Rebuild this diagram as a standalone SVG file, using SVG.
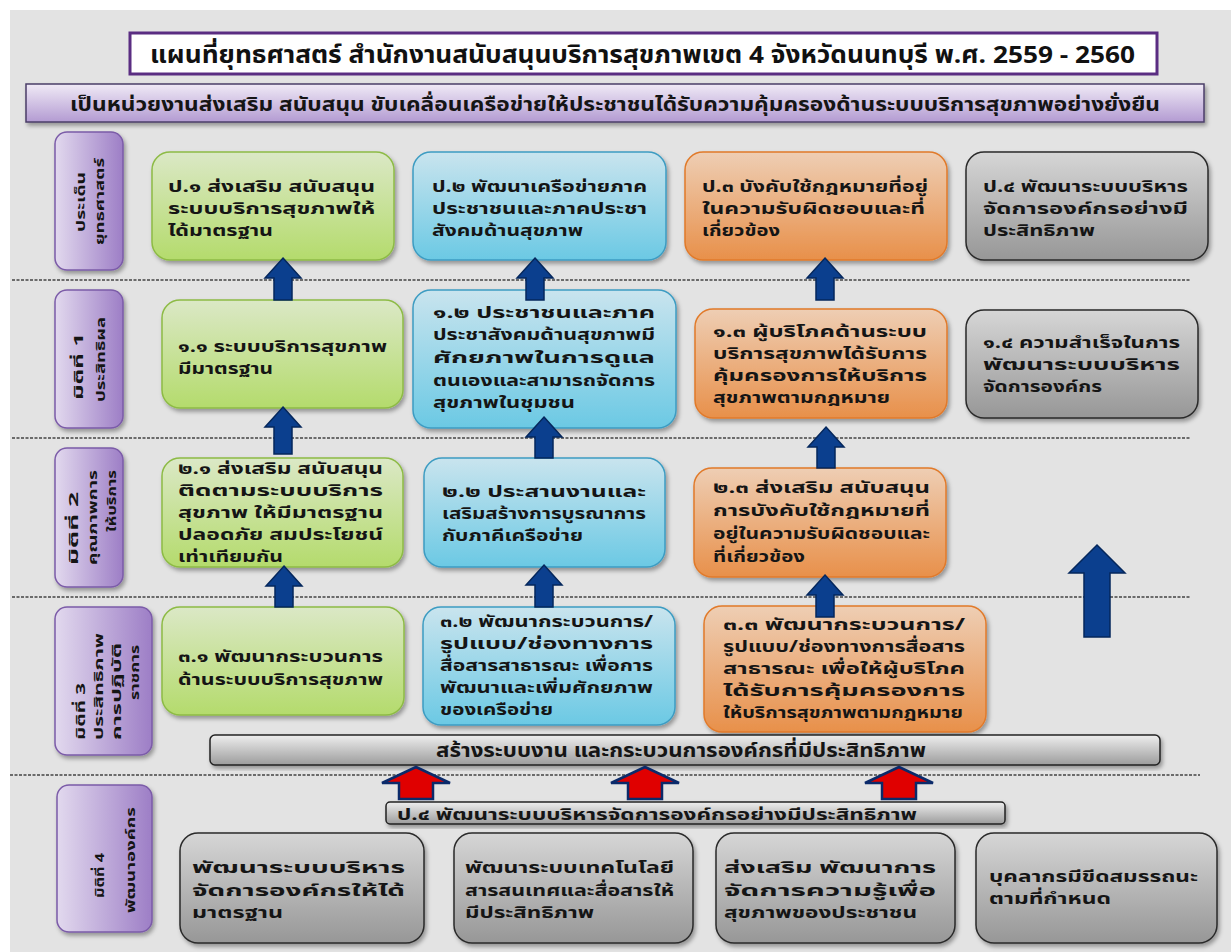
<svg xmlns="http://www.w3.org/2000/svg" width="1231" height="952" viewBox="0 0 1231 952">
<defs>
<linearGradient id="gG" x1="0" y1="0" x2="0" y2="1"><stop offset="0" stop-color="#dbe8c6"/><stop offset="1" stop-color="#b4db6c"/></linearGradient>
<linearGradient id="gB" x1="0" y1="0" x2="0" y2="1"><stop offset="0" stop-color="#c9e4ee"/><stop offset="1" stop-color="#6bc9e4"/></linearGradient>
<linearGradient id="gO" x1="0" y1="0" x2="0" y2="1"><stop offset="0" stop-color="#eeceb4"/><stop offset="1" stop-color="#e8904a"/></linearGradient>
<linearGradient id="gY" x1="0" y1="0" x2="0" y2="1"><stop offset="0" stop-color="#d6d6d6"/><stop offset="1" stop-color="#979797"/></linearGradient>
<linearGradient id="gBar" x1="0" y1="0" x2="0" y2="1"><stop offset="0" stop-color="#eeeeee"/><stop offset="1" stop-color="#9c9c9c"/></linearGradient>
<linearGradient id="gP" x1="0" y1="0" x2="1" y2="0"><stop offset="0" stop-color="#e2d9ee"/><stop offset="1" stop-color="#9d7ec6"/></linearGradient>
<linearGradient id="gM" x1="0" y1="0" x2="0" y2="1"><stop offset="0" stop-color="#f0eaf6"/><stop offset="1" stop-color="#b39bd2"/></linearGradient>
<filter id="sh" x="-10%" y="-10%" width="125%" height="130%"><feDropShadow dx="2" dy="3" stdDeviation="2" flood-color="#000" flood-opacity="0.35"/></filter>
</defs>
<style>
.t{font-family:"Noto Sans Thai","Noto Sans","DejaVu Sans",sans-serif;font-weight:bold;font-size:16px;fill:#151515}
.t1{font-family:"Noto Sans Thai","Noto Sans","DejaVu Sans",sans-serif;font-weight:bold;font-size:19px;fill:#151515}
.t2{font-family:"Noto Sans Thai","Noto Sans","DejaVu Sans",sans-serif;font-weight:bold;font-size:16px;fill:#151515}
.lb{font-family:"Noto Sans Thai","Noto Sans","DejaVu Sans",sans-serif;font-weight:bold;font-size:13px;fill:#151515}
.ttl{font-family:"Noto Sans Thai","Noto Sans","DejaVu Sans",sans-serif;font-weight:bold;font-size:24px;fill:#111}
.g{fill:url(#gG);stroke:#8dbb45;stroke-width:1.5;filter:url(#sh)}
.b{fill:url(#gB);stroke:#3d9cc2;stroke-width:1.5;filter:url(#sh)}
.o{fill:url(#gO);stroke:#e17a2a;stroke-width:1.5;filter:url(#sh)}
.y{fill:url(#gY);stroke:#2a2a2a;stroke-width:1.5;filter:url(#sh)}
.bar{fill:url(#gBar);stroke:#222;stroke-width:1.5;filter:url(#sh)}
.p{fill:url(#gP);stroke:#7b5ba8;stroke-width:1.5;filter:url(#sh)}
.dl{stroke:#444;stroke-width:1.5;stroke-dasharray:3 1.5;fill:none}
.ab{fill:#0b3f8e;stroke:#05275c;stroke-width:1.5}
.ar{fill:#e00000;stroke:#0b2a6a;stroke-width:2.5}
</style>
<rect x="0" y="0" width="1231" height="952" fill="#ffffff"/>
<rect x="10" y="10" width="1221" height="942" fill="#e3e3e3"/>

<g id="title">
<rect x="130" y="33" width="1027" height="41" fill="#ffffff" stroke="#5a2d82" stroke-width="3"/>
<text class="ttl" x="150" y="63" textLength="985" lengthAdjust="spacingAndGlyphs">แผนที่ยุทธศาสตร์ สำนักงานสนับสนุนบริการสุขภาพเขต 4 จังหวัดนนทบุรี พ.ศ. 2559 - 2560</text>
</g>
<g id="mission">
<rect x="26" y="84" width="1178" height="38" fill="url(#gM)" stroke="#4b3d68" stroke-width="1.5" filter="url(#sh)"/>
<text class="t1" x="70" y="111" textLength="1090" lengthAdjust="spacingAndGlyphs">เป็นหน่วยงานส่งเสริม  สนับสนุน  ขับเคลื่อนเครือข่ายให้ประชาชนได้รับความคุ้มครองด้านระบบบริการสุขภาพอย่างยั่งยืน</text>
</g>

<g id="dividers">
<line class="dl" x1="12" y1="280" x2="1190" y2="280"/>
<line class="dl" x1="12" y1="438" x2="1190" y2="438"/>
<line class="dl" x1="12" y1="597" x2="1190" y2="597"/>
<line class="dl" x1="10" y1="775" x2="1200" y2="775"/>
</g>

<g id="label-strategy">
<rect class="p" x="55" y="132" width="68" height="138" rx="12"/>
<text class="lb" transform="rotate(-90)"><tspan x="-232" y="85" textLength="60" lengthAdjust="spacingAndGlyphs">ประเด็น</tspan><tspan x="-245" y="104" textLength="87" lengthAdjust="spacingAndGlyphs">ยุทธศาสตร์</tspan></text>
</g>
<g id="label-dim1">
<rect class="p" x="55" y="290" width="68" height="138" rx="12"/>
<text class="lb" transform="rotate(-90)"><tspan x="-400" y="83" textLength="67" lengthAdjust="spacingAndGlyphs">มิติที่ 1</tspan><tspan x="-402" y="105" textLength="85" lengthAdjust="spacingAndGlyphs">ประสิทธิผล</tspan></text>
</g>
<g id="label-dim2">
<rect class="p" x="55" y="448" width="68" height="139" rx="12"/>
<text class="lb" transform="rotate(-90)"><tspan x="-565" y="78" textLength="73" lengthAdjust="spacingAndGlyphs">มิติที่ 2</tspan><tspan x="-565" y="97" textLength="95" lengthAdjust="spacingAndGlyphs">คุณภาพการ</tspan><tspan x="-532" y="116" textLength="62" lengthAdjust="spacingAndGlyphs">ให้บริการ</tspan></text>
</g>
<g id="label-dim3">
<rect class="p" x="55" y="607" width="97" height="148" rx="12"/>
<text class="lb" transform="rotate(-90)"><tspan x="-740" y="85" textLength="57" lengthAdjust="spacingAndGlyphs">มิติที่ 3</tspan><tspan x="-740" y="103" textLength="107" lengthAdjust="spacingAndGlyphs">ประสิทธิภาพ</tspan><tspan x="-740" y="121" textLength="97" lengthAdjust="spacingAndGlyphs">การปฏิบัติ</tspan><tspan x="-700" y="139" textLength="55" lengthAdjust="spacingAndGlyphs">ราชการ</tspan></text>
</g>
<g id="label-dim4">
<rect class="p" x="57" y="785" width="95" height="147" rx="12"/>
<text class="lb" transform="rotate(-90)"><tspan x="-898" y="104" textLength="45" lengthAdjust="spacingAndGlyphs">มิติที่ 4</tspan><tspan x="-913" y="135" textLength="106" lengthAdjust="spacingAndGlyphs">พัฒนาองค์กร</tspan></text>
</g>

<g id="p1">
<rect class="g" x="152" y="152" width="242" height="108" rx="18"/>
<text class="t"><tspan x="168" y="192" textLength="207" lengthAdjust="spacingAndGlyphs">ป.๑ ส่งเสริม สนับสนุน</tspan><tspan x="168" y="214" textLength="207" lengthAdjust="spacingAndGlyphs">ระบบบริการสุขภาพให้</tspan><tspan x="168" y="236" textLength="105" lengthAdjust="spacingAndGlyphs">ได้มาตรฐาน</tspan></text>
</g>
<g id="p2">
<rect class="b" x="413" y="152" width="253" height="108" rx="18"/>
<text class="t"><tspan x="432" y="192" textLength="215" lengthAdjust="spacingAndGlyphs">ป.๒ พัฒนาเครือข่ายภาค</tspan><tspan x="432" y="214" textLength="215" lengthAdjust="spacingAndGlyphs">ประชาชนและภาคประชา</tspan><tspan x="432" y="236" textLength="151" lengthAdjust="spacingAndGlyphs">สังคมด้านสุขภาพ</tspan></text>
</g>
<g id="p3">
<rect class="o" x="685" y="152" width="262" height="108" rx="18"/>
<text class="t"><tspan x="702" y="192" textLength="226" lengthAdjust="spacingAndGlyphs">ป.๓ บังคับใช้กฎหมายที่อยู่</tspan><tspan x="702" y="214" textLength="223" lengthAdjust="spacingAndGlyphs">ในความรับผิดชอบและที่</tspan><tspan x="702" y="236" textLength="78" lengthAdjust="spacingAndGlyphs">เกี่ยวข้อง</tspan></text>
</g>
<g id="p4">
<rect class="y" x="966" y="152" width="242" height="108" rx="18"/>
<text class="t"><tspan x="983" y="192" textLength="205" lengthAdjust="spacingAndGlyphs">ป.๔ พัฒนาระบบบริหาร</tspan><tspan x="983" y="214" textLength="205" lengthAdjust="spacingAndGlyphs">จัดการองค์กรอย่างมี</tspan><tspan x="983" y="236" textLength="112" lengthAdjust="spacingAndGlyphs">ประสิทธิภาพ</tspan></text>
</g>

<g id="d1-1">
<rect class="g" x="162" y="300" width="241" height="108" rx="18"/>
<text class="t"><tspan x="178" y="352" textLength="209" lengthAdjust="spacingAndGlyphs">๑.๑ ระบบบริการสุขภาพ</tspan><tspan x="178" y="374" textLength="95" lengthAdjust="spacingAndGlyphs">มีมาตรฐาน</tspan></text>
</g>
<g id="d1-2">
<rect class="b" x="413" y="290" width="263" height="138" rx="18"/>
<text class="t"><tspan x="433" y="318" textLength="222" lengthAdjust="spacingAndGlyphs">๑.๒ ประชาชนและภาค</tspan><tspan x="433" y="340" textLength="222" lengthAdjust="spacingAndGlyphs">ประชาสังคมด้านสุขภาพมี</tspan><tspan x="433" y="363" textLength="222" lengthAdjust="spacingAndGlyphs">ศักยภาพในการดูแล</tspan><tspan x="433" y="386" textLength="222" lengthAdjust="spacingAndGlyphs">ตนเองและสามารถจัดการ</tspan><tspan x="433" y="408" textLength="142" lengthAdjust="spacingAndGlyphs">สุขภาพในชุมชน</tspan></text>
</g>
<g id="d1-3">
<rect class="o" x="695" y="309" width="252" height="109" rx="18"/>
<text class="t"><tspan x="713" y="337" textLength="214" lengthAdjust="spacingAndGlyphs">๑.๓ ผู้บริโภคด้านระบบ</tspan><tspan x="713" y="359" textLength="214" lengthAdjust="spacingAndGlyphs">บริการสุขภาพได้รับการ</tspan><tspan x="713" y="381" textLength="214" lengthAdjust="spacingAndGlyphs">คุ้มครองการให้บริการ</tspan><tspan x="713" y="403" textLength="177" lengthAdjust="spacingAndGlyphs">สุขภาพตามกฎหมาย</tspan></text>
</g>
<g id="d1-4">
<rect class="y" x="966" y="310" width="232" height="108" rx="18"/>
<text class="t"><tspan x="983" y="348" textLength="197" lengthAdjust="spacingAndGlyphs">๑.๔ ความสำเร็จในการ</tspan><tspan x="983" y="370" textLength="197" lengthAdjust="spacingAndGlyphs">พัฒนาระบบบริหาร</tspan><tspan x="983" y="392" textLength="119" lengthAdjust="spacingAndGlyphs">จัดการองค์กร</tspan></text>
</g>

<g id="d2-1">
<rect class="g" x="162" y="458" width="241" height="109" rx="18"/>
<text class="t"><tspan x="178" y="474" textLength="205" lengthAdjust="spacingAndGlyphs">๒.๑ ส่งเสริม สนับสนุน</tspan><tspan x="178" y="496" textLength="205" lengthAdjust="spacingAndGlyphs">ติดตามระบบบริการ</tspan><tspan x="178" y="518" textLength="205" lengthAdjust="spacingAndGlyphs">สุขภาพ ให้มีมาตรฐาน</tspan><tspan x="178" y="540" textLength="205" lengthAdjust="spacingAndGlyphs">ปลอดภัย สมประโยชน์</tspan><tspan x="178" y="562" textLength="105" lengthAdjust="spacingAndGlyphs">เท่าเทียมกัน</tspan></text>
</g>
<g id="d2-2">
<rect class="b" x="424" y="458" width="241" height="109" rx="18"/>
<text class="t"><tspan x="442" y="497" textLength="204" lengthAdjust="spacingAndGlyphs">๒.๒ ประสานงานและ</tspan><tspan x="442" y="519" textLength="204" lengthAdjust="spacingAndGlyphs">เสริมสร้างการบูรณาการ</tspan><tspan x="442" y="541" textLength="141" lengthAdjust="spacingAndGlyphs">กับภาคีเครือข่าย</tspan></text>
</g>
<g id="d2-3">
<rect class="o" x="694" y="468" width="252" height="109" rx="18"/>
<text class="t"><tspan x="713" y="493" textLength="217" lengthAdjust="spacingAndGlyphs">๒.๓ ส่งเสริม สนับสนุน</tspan><tspan x="713" y="516" textLength="217" lengthAdjust="spacingAndGlyphs">การบังคับใช้กฎหมายที่</tspan><tspan x="713" y="539" textLength="217" lengthAdjust="spacingAndGlyphs">อยู่ในความรับผิดชอบและ</tspan><tspan x="713" y="562" textLength="92" lengthAdjust="spacingAndGlyphs">ที่เกี่ยวข้อง</tspan></text>
</g>

<g id="d3-1">
<rect class="g" x="162" y="607" width="242" height="108" rx="18"/>
<text class="t"><tspan x="178" y="662" textLength="205" lengthAdjust="spacingAndGlyphs">๓.๑ พัฒนากระบวนการ</tspan><tspan x="178" y="685" textLength="205" lengthAdjust="spacingAndGlyphs">ด้านระบบบริการสุขภาพ</tspan></text>
</g>
<g id="d3-2">
<rect class="b" x="423" y="607" width="252" height="118" rx="18"/>
<text class="t"><tspan x="440" y="627" textLength="213" lengthAdjust="spacingAndGlyphs">๓.๒ พัฒนากระบวนการ/</tspan><tspan x="440" y="649" textLength="213" lengthAdjust="spacingAndGlyphs">รูปแบบ/ช่องทางการ</tspan><tspan x="440" y="671" textLength="213" lengthAdjust="spacingAndGlyphs">สื่อสารสาธารณะ เพื่อการ</tspan><tspan x="440" y="693" textLength="213" lengthAdjust="spacingAndGlyphs">พัฒนาและเพิ่มศักยภาพ</tspan><tspan x="440" y="715" textLength="113" lengthAdjust="spacingAndGlyphs">ของเครือข่าย</tspan></text>
</g>
<g id="d3-3">
<rect class="o" x="704" y="606" width="282" height="126" rx="18"/>
<text class="t"><tspan x="723" y="630" textLength="242" lengthAdjust="spacingAndGlyphs">๓.๓ พัฒนากระบวนการ/</tspan><tspan x="723" y="652" textLength="242" lengthAdjust="spacingAndGlyphs">รูปแบบ/ช่องทางการสื่อสาร</tspan><tspan x="723" y="674" textLength="242" lengthAdjust="spacingAndGlyphs">สาธารณะ เพื่อให้ผู้บริโภค</tspan><tspan x="723" y="696" textLength="242" lengthAdjust="spacingAndGlyphs">ได้รับการคุ้มครองการ</tspan><tspan x="723" y="718" textLength="240" lengthAdjust="spacingAndGlyphs">ให้บริการสุขภาพตามกฎหมาย</tspan></text>
</g>

<g id="bar-process">
<rect class="bar" x="210" y="735" width="950" height="30" rx="5"/>
<text class="t1" x="436" y="757" textLength="490" lengthAdjust="spacingAndGlyphs">สร้างระบบงาน และกระบวนการองค์กรที่มีประสิทธิภาพ</text>
</g>
<g id="bar-p4">
<rect class="bar" x="386" y="802" width="619" height="22" rx="4"/>
<text class="t2" x="397" y="820" textLength="520" lengthAdjust="spacingAndGlyphs">ป.๔ พัฒนาระบบบริหารจัดการองค์กรอย่างมีประสิทธิภาพ</text>
</g>

<g id="d4-1">
<rect class="y" x="180" y="833" width="244" height="110" rx="18"/>
<text class="t"><tspan x="192" y="873" textLength="213" lengthAdjust="spacingAndGlyphs">พัฒนาระบบบริหาร</tspan><tspan x="192" y="896" textLength="213" lengthAdjust="spacingAndGlyphs">จัดการองค์กรให้ได้</tspan><tspan x="192" y="918" textLength="91" lengthAdjust="spacingAndGlyphs">มาตรฐาน</tspan></text>
</g>
<g id="d4-2">
<rect class="y" x="454" y="833" width="239" height="110" rx="18"/>
<text class="t"><tspan x="465" y="873" textLength="209" lengthAdjust="spacingAndGlyphs">พัฒนาระบบเทคโนโลยี</tspan><tspan x="465" y="896" textLength="209" lengthAdjust="spacingAndGlyphs">สารสนเทศและสื่อสารให้</tspan><tspan x="465" y="918" textLength="129" lengthAdjust="spacingAndGlyphs">มีประสิทธิภาพ</tspan></text>
</g>
<g id="d4-3">
<rect class="y" x="716" y="833" width="239" height="110" rx="18"/>
<text class="t"><tspan x="724" y="873" textLength="212" lengthAdjust="spacingAndGlyphs">ส่งเสริม พัฒนาการ</tspan><tspan x="724" y="896" textLength="212" lengthAdjust="spacingAndGlyphs">จัดการความรู้เพื่อ</tspan><tspan x="724" y="918" textLength="193" lengthAdjust="spacingAndGlyphs">สุขภาพของประชาชน</tspan></text>
</g>
<g id="d4-4">
<rect class="y" x="976" y="833" width="241" height="110" rx="18"/>
<text class="t"><tspan x="989" y="882" textLength="209" lengthAdjust="spacingAndGlyphs">บุคลากรมีขีดสมรรถนะ</tspan><tspan x="989" y="904" textLength="122" lengthAdjust="spacingAndGlyphs">ตามที่กำหนด</tspan></text>
</g>

<g id="connectors">
<polygon class="ab" points="283,258 301,278 292,278 292,300 274,300 274,278 265,278"/>
<polygon class="ab" points="535,258 553,278 544,278 544,300 526,300 526,278 517,278"/>
<polygon class="ab" points="825,258 843,278 834,278 834,300 816,300 816,278 807,278"/>
<polygon class="ab" points="283,407 301,427 292,427 292,454 274,454 274,427 265,427"/>
<polygon class="ab" points="544,417 562,437 553,437 553,458 535,458 535,437 526,437"/>
<polygon class="ab" points="826,427 844,447 835,447 835,468 817,468 817,447 808,447"/>
<polygon class="ab" points="284,566 302,586 293,586 293,607 275,607 275,586 266,586"/>
<polygon class="ab" points="544,565 562,585 553,585 553,607 535,607 535,585 526,585"/>
<polygon class="ab" points="825,575 843,595 834,595 834,617 816,617 816,595 807,595"/>
<polygon class="ab" points="1097,545 1125,573 1110,573 1110,637 1084,637 1084,573 1069,573"/>
<polygon class="ar" points="416,767 450,783 433,783 433,799 399,799 399,783 382,783"/>
<polygon class="ar" points="645,767 679,783 662,783 662,799 628,799 628,783 611,783"/>
<polygon class="ar" points="899,767 933,783 916,783 916,799 882,799 882,783 865,783"/>
</g>
</svg>
